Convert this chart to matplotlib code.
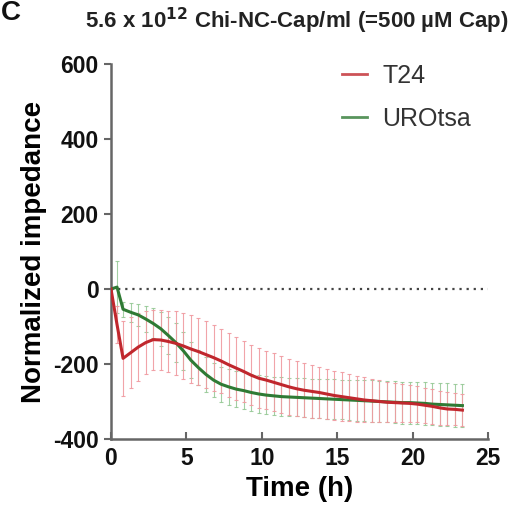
import numpy as np
import matplotlib
matplotlib.use('Agg')
import matplotlib.pyplot as plt

plt.rcParams['font.family'] = ['Liberation Sans', 'DejaVu Sans']
plt.rcParams['axes.unicode_minus'] = False

# data
time_h = [0, 0.4, 0.8, 1.3, 1.8, 2.3, 2.8, 3.3, 3.8, 4.3, 4.8, 5.3, 5.8, 6.3, 6.8, 7.3,
          7.8, 8.3, 8.8, 9.3, 9.8, 10.3, 10.8, 11.3, 11.8, 12.3, 12.8, 13.3, 13.8, 14.3,
          14.8, 15.3, 15.8, 16.3, 16.8, 17.3, 17.8, 18.3, 18.8, 19.3, 19.8, 20.3, 20.8,
          21.3, 21.8, 22.3, 22.8, 23.3]

t24_mean = [0, -95, -185, -170, -155, -143, -135, -136, -140, -145, -152, -160, -167,
            -175, -183, -192, -202, -211, -220, -230, -238, -243, -249, -255, -261, -266,
            -270, -273, -276, -280, -284, -287, -290, -293, -296, -298, -300, -302, -303,
            -304, -305, -307, -310, -313, -317, -320, -321, -323]
t24_sd = [0, 50, 100, 95, 90, 85, 80, 80, 82, 85, 88, 90, 90, 90, 88, 86, 85, 84, 82,
          80, 80, 78, 77, 76, 75, 74, 72, 70, 68, 67, 66, 65, 63, 62, 60, 58, 56, 54, 52,
          50, 49, 48, 47, 46, 45, 44, 43, 42]

uro_mean = [0, 5, -54, -62, -69, -80, -92, -106, -124, -143, -165, -190, -210, -228,
            -243, -254, -261, -267, -271, -276, -280, -283, -285, -287, -288, -289, -290,
            -291, -292, -293, -294, -295, -296, -297, -298, -299, -300, -301, -302, -303,
            -303, -304, -305, -307, -308, -309, -310, -311]
uro_sd = [0, 70, 20, 25, 30, 35, 40, 45, 50, 52, 50, 48, 46, 46, 46, 47, 48, 48, 49,
          50, 50, 50, 51, 51, 51, 51, 52, 52, 52, 53, 53, 53, 54, 54, 54, 55, 55, 55, 56,
          56, 56, 56, 57, 57, 57, 57, 57, 57]

red = '#c0272d'
green = '#2f7a34'
axis_col = '#666666'

fig = plt.figure(figsize=(5.17, 5.15), dpi=100)
ax = fig.add_axes([0.2147, 0.1476, 0.7293, 0.7281])

ax.axhline(0, color='#444444', lw=1.6, ls=(0, (1, 2.2)), zorder=1)

ax.errorbar(time_h, uro_mean, yerr=uro_sd, fmt='none', ecolor='#8cc48c',
            elinewidth=0.8, capsize=1.5, capthick=0.8, alpha=0.8, zorder=2)
ax.errorbar(time_h, t24_mean, yerr=t24_sd, fmt='none', ecolor='#f09aa0',
            elinewidth=0.8, capsize=1.5, capthick=0.8, alpha=0.9, zorder=2)

ax.plot(time_h, t24_mean, color=red, lw=2.2, label='T24', zorder=4)
ax.plot(time_h, uro_mean, color=green, lw=2.2, label='UROtsa', zorder=3)

ax.set_xlim(0, 25)
ax.set_ylim(-400, 600)
ax.set_xticks([0, 5, 10, 15, 20, 25])
ax.set_yticks([-400, -200, 0, 200, 400, 600])

for s in ['top', 'right']:
    ax.spines[s].set_visible(False)
for s in ['left', 'bottom']:
    ax.spines[s].set_color(axis_col)
    ax.spines[s].set_linewidth(1.8)

ax.tick_params(axis='y', direction='out', length=5, width=1.5, color=axis_col,
               labelsize=16.5, pad=4)
ax.tick_params(axis='x', direction='in', length=5, width=1.5, color=axis_col,
               labelsize=16.5, pad=6)
for lab in ax.get_xticklabels() + ax.get_yticklabels():
    lab.set_fontweight('bold')
    lab.set_color('#111111')

ax.set_xlabel('Time (h)', fontsize=20, fontweight='bold', labelpad=4)
ax.set_ylabel('Normalized impedance', fontsize=20, fontweight='bold', labelpad=4)

fig.text(0.575, 0.96, r'5.6 x 10$^{\mathbf{12}}$ Chi-NC-Cap/ml (=500 µM Cap)',
         ha='center', va='center', fontsize=16, fontweight='bold', color='#222222')
fig.text(0.002, 0.975, 'C', ha='left', va='center', fontsize=20,
         fontweight='bold', color='#111111')

leg = ax.legend(loc='upper right', bbox_to_anchor=(1.015, 1.06), frameon=False,
                fontsize=18, handlelength=1.0, handletextpad=0.6, labelspacing=0.75)
for t in leg.get_texts():
    t.set_color('#333333')
for h in leg.get_lines():
    h.set_linewidth(2.0)
    h.set_alpha(0.8)

fig.savefig('out.png', dpi=100)
